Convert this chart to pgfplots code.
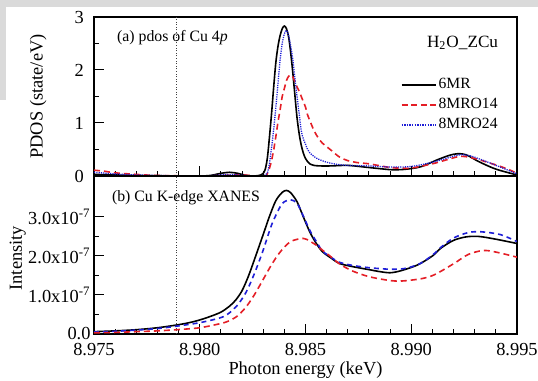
\documentclass[border=0pt]{standalone}
\usepackage{pgfplots}
\pgfplotsset{compat=1.18}
\usepackage{fontspec}
\setmainfont{Liberation Serif}
\definecolor{myred}{RGB}{228,30,38}
\definecolor{myblue}{RGB}{30,30,215}
\definecolor{framegray}{RGB}{218,218,218}
\pgfplotsset{
  mystyle/.style={
    scale only axis, width=211.5pt, height=79.5pt,
    xmin=8.975, xmax=8.995,
    xtick={8.975,8.98,8.985,8.99,8.995},
    minor x tick num=4,
    tick align=inside, tick pos=left,
    major tick length=5pt, minor tick length=2.5pt,
    axis line style={line width=0.6pt},
    every tick/.style={line width=0.5pt, black},
    scaled ticks=false,
    tick label style={font=\fontsize{9.2}{10}\selectfont},
    label style={font=\fontsize{9.2}{10}\selectfont},
    /pgf/number format/assume math mode=true,
  },
  blk/.style={black, line width=0.8pt, smooth},
  rdd/.style={myred, line width=0.8pt, dash pattern=on 3pt off 2pt, smooth},
  bdt/.style={myblue, line width=0.65pt, dash pattern=on 0.6pt off 0.55pt, smooth},
  bdd/.style={myblue, line width=0.8pt, dash pattern=on 2.5pt off 2pt, smooth},
}
\begin{document}
\begin{tikzpicture}
\useasboundingbox (0,0) rectangle (269pt,190.5pt);
\fill[framegray] (0,187pt) rectangle (269pt,190.5pt);
\fill[framegray] (0,140.5pt) rectangle (3pt,190.5pt);

% ---------------- top panel ----------------
\begin{axis}[mystyle,
  at={(47pt,102.5pt)}, anchor=south west,
  ymin=0, ymax=3, ytick={0,1,2,3}, minor y tick num=1,
  xticklabels={},
  yticklabel style={xshift=-1.5pt},
  ylabel={PDOS (state/eV)},
  ylabel style={at={(axis description cs:-0.132,0.5)}, anchor=center},
  legend style={at={(rel axis cs:0.724,0.628)}, anchor=north west,
    font=\fontsize{7.8}{8}\selectfont, inner sep=0pt, row sep=1.2pt,
    nodes={inner sep=1pt}},
  every axis legend/.append style={draw=none, fill=none},
  legend cell align=left,
  legend image code/.code={\draw[#1] (0pt,0pt) -- (17pt,0pt);},
]
\addlegendimage{draw=black, line width=0.9pt}
\addlegendentry{6MR}
\addlegendimage{draw=myred, line width=1pt, dash pattern=on 3pt off 1.8pt}
\addlegendentry{8MRO14}
\addlegendimage{draw=myblue, line width=0.8pt, dash pattern=on 0.7pt off 0.6pt}
\addlegendentry{8MRO24}
\addplot[black!75, line width=0.3pt, dash pattern=on 0.5pt off 0.8pt, forget plot] coordinates {(8.9789,0) (8.9789,3)};
\addplot[blk, forget plot] coordinates {
(8.9750,0.03) (8.9760,0.02) (8.9770,0.01) (8.9780,0.005) (8.9790,0.0) (8.9800,0.0)
(8.9805,0.01) (8.9810,0.05) (8.9814,0.07) (8.9818,0.05) (8.9822,0.01) (8.9826,0.0)
(8.9829,0.02) (8.9830,0.05) (8.9831,0.13) (8.9832,0.35) (8.9833,0.75) (8.9834,1.2)
(8.9835,1.7) (8.9836,2.15) (8.9837,2.45) (8.9838,2.65) (8.9839,2.78) (8.9840,2.83)
(8.9841,2.78) (8.9842,2.63) (8.9843,2.33) (8.9844,1.95) (8.9845,1.52) (8.9846,1.1)
(8.9847,0.8) (8.9848,0.58) (8.9849,0.43) (8.9850,0.33) (8.9851,0.27) (8.9852,0.23)
(8.9854,0.20) (8.9857,0.19) (8.9862,0.19) (8.9870,0.20) (8.9880,0.16) (8.9890,0.12)
(8.9895,0.12) (8.9900,0.14) (8.9905,0.18) (8.9912,0.30) (8.9918,0.39) (8.9922,0.42)
(8.9926,0.40) (8.9932,0.27) (8.9940,0.13) (8.9950,0.02)};
\addplot[rdd, forget plot] coordinates {
(8.9750,0.11) (8.9755,0.09) (8.9760,0.06) (8.9770,0.03) (8.9780,0.01) (8.9800,0.0)
(8.9810,0.01) (8.9820,0.02) (8.9826,0.0) (8.9831,0.0) (8.9832,0.05) (8.9833,0.15)
(8.9834,0.3) (8.9835,0.5) (8.9836,0.75) (8.9837,1.02) (8.9838,1.25) (8.9839,1.5)
(8.9840,1.65) (8.9841,1.8) (8.9842,1.88) (8.9843,1.91) (8.9844,1.87) (8.9845,1.78)
(8.9846,1.68) (8.9847,1.6) (8.9848,1.5) (8.9849,1.4) (8.9850,1.3) (8.9851,1.15)
(8.9852,1.05) (8.9854,0.86) (8.9856,0.72) (8.9858,0.62) (8.9862,0.49) (8.9866,0.36)
(8.9870,0.29) (8.9875,0.25) (8.9880,0.23) (8.9890,0.16) (8.9895,0.15) (8.9900,0.15)
(8.9910,0.23) (8.9918,0.32) (8.9923,0.37) (8.9928,0.35) (8.9936,0.26) (8.9945,0.14)
(8.9950,0.05)};
\addplot[bdt, forget plot] coordinates {
(8.9750,0.07) (8.9760,0.04) (8.9770,0.02) (8.9780,0.01) (8.9800,0.0) (8.9810,0.02)
(8.9814,0.03) (8.9818,0.02) (8.9825,0.0) (8.9830,0.0) (8.9831,0.02) (8.9832,0.06)
(8.9833,0.25) (8.9834,0.55) (8.9835,0.9) (8.9836,1.3) (8.9837,1.75) (8.9838,2.19)
(8.9839,2.5) (8.9840,2.68) (8.9841,2.75) (8.9842,2.65) (8.9843,2.45) (8.9844,2.2)
(8.9845,1.85) (8.9846,1.5) (8.9847,1.18) (8.9848,0.85) (8.9849,0.7) (8.9850,0.6)
(8.9851,0.5) (8.9852,0.44) (8.9855,0.34) (8.9860,0.26) (8.9865,0.22) (8.9870,0.20)
(8.9880,0.19) (8.9890,0.17) (8.9900,0.18) (8.9910,0.26) (8.9918,0.35) (8.9923,0.40)
(8.9928,0.38) (8.9935,0.28) (8.9942,0.17) (8.9950,0.04)};
\node[anchor=west, font=\fontsize{7.9}{9}\selectfont] at (rel axis cs:0.038,0.868) {(a) pdos of Cu 4\textit{p}};
\node[anchor=east, font=\fontsize{8.6}{9}\selectfont] at (rel axis cs:0.972,0.836) {H\textsubscript{2}O\_ZCu};
\end{axis}

% ---------------- bottom panel ----------------
\begin{axis}[mystyle,
  at={(47pt,23.5pt)}, anchor=south west, height=79pt,
  ymin=0, ymax=4.05, ytick={0,1,2,3}, minor y tick num=1,
  yticklabels={0.0,{1.0x10\textsuperscript{-7}},{2.0x10\textsuperscript{-7}},{3.0x10\textsuperscript{-7}}},
  xticklabels={8.975,8.980,8.985,8.990,8.995},
  yticklabel style={xshift=1.8pt},
  xticklabel style={yshift=-1.2pt},
  ylabel={Intensity},
  ylabel style={at={(axis description cs:-0.18,0.48)}, anchor=center},
  xlabel={Photon energy (keV)},
  xlabel style={at={(axis description cs:0.5,-0.228)}, anchor=center},
]
\addplot[black!75, line width=0.3pt, dash pattern=on 0.5pt off 0.8pt] coordinates {(8.9789,0) (8.9789,4.05)};
\addplot[blk] coordinates {
(8.9750,0.06) (8.9760,0.08) (8.9770,0.11) (8.9780,0.16) (8.9789,0.23) (8.9795,0.29)
(8.9800,0.36) (8.9805,0.45) (8.9810,0.56) (8.9814,0.71) (8.9817,0.87) (8.9820,1.11)
(8.9823,1.48) (8.9826,1.93) (8.9830,2.55) (8.9833,3.02) (8.9836,3.42) (8.9839,3.63)
(8.9841,3.68) (8.9843,3.62) (8.9846,3.39) (8.9849,3.0) (8.9852,2.62) (8.9855,2.33)
(8.9858,2.11) (8.9862,1.95) (8.9866,1.81) (8.9872,1.73) (8.9880,1.65) (8.9885,1.60)
(8.9890,1.57) (8.9895,1.62) (8.9903,1.77) (8.9910,2.0) (8.9914,2.2) (8.9920,2.40)
(8.9926,2.49) (8.9932,2.50) (8.9940,2.43) (8.9950,2.32)};
\addplot[bdd] coordinates {
(8.9750,0.05) (8.9760,0.07) (8.9770,0.10) (8.9780,0.14) (8.9789,0.20) (8.9800,0.29)
(8.9810,0.42) (8.9814,0.54) (8.9818,0.75) (8.9822,1.08) (8.9826,1.57) (8.9830,2.15)
(8.9834,2.80) (8.9838,3.26) (8.9840,3.39) (8.9843,3.44) (8.9846,3.35) (8.9849,3.02)
(8.9852,2.66) (8.9855,2.38) (8.9858,2.13) (8.9862,1.97) (8.9866,1.84) (8.9872,1.76)
(8.9880,1.70) (8.9890,1.66) (8.9897,1.68) (8.9904,1.80) (8.9910,2.02) (8.9914,2.22)
(8.9920,2.46) (8.9927,2.60) (8.9933,2.62) (8.9942,2.55) (8.9950,2.37)};
\addplot[rdd] coordinates {
(8.9750,0.03) (8.9760,0.04) (8.9770,0.06) (8.9780,0.08) (8.9789,0.11) (8.9800,0.16)
(8.9810,0.27) (8.9814,0.34) (8.9818,0.47) (8.9822,0.70) (8.9826,1.02) (8.9830,1.40)
(8.9834,1.78) (8.9838,2.10) (8.9843,2.37) (8.9849,2.45) (8.9852,2.38) (8.9855,2.28)
(8.9858,2.15) (8.9862,1.98) (8.9866,1.80) (8.9872,1.62) (8.9880,1.47) (8.9890,1.37)
(8.9896,1.36) (8.9905,1.42) (8.9911,1.52) (8.9920,1.80) (8.9927,2.04) (8.9934,2.14)
(8.9940,2.10) (8.9950,1.97)};
\node[anchor=west, font=\fontsize{7.9}{9}\selectfont] at (rel axis cs:0.026,0.861) {(b) Cu K-edge XANES};
\end{axis}
\end{tikzpicture}
\end{document}
